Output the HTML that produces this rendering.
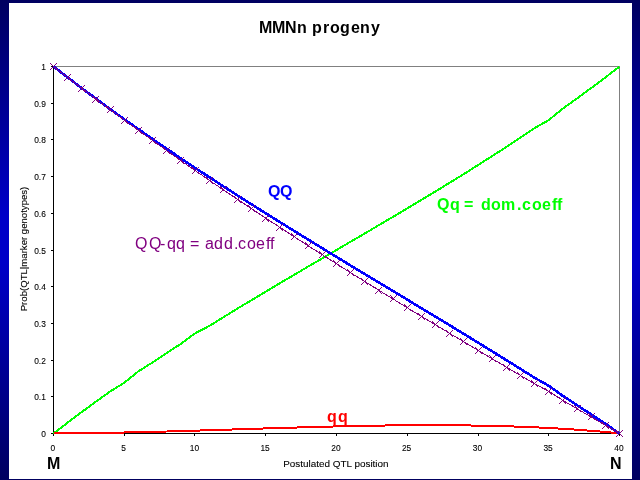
<!DOCTYPE html>
<html><head><meta charset="utf-8"><title>MMNn progeny</title>
<style>
html,body{margin:0;padding:0;}
body{width:640px;height:480px;overflow:hidden;position:relative;font-family:"Liberation Sans",sans-serif;
background:linear-gradient(to bottom,#000060 0%,#0000c8 45%,#0000c8 55%,#000060 100%);}
.panel{position:absolute;left:9px;top:3px;width:623px;height:476px;background:#fff;}
.ch{position:absolute;left:0;top:0;will-change:transform;}
text{font-family:"Liberation Sans",sans-serif;}
.tk text{font-size:8.4px;fill:#000;stroke:#000;stroke-width:0.1px;}
.ax{fill:#000;stroke:#000;stroke-width:0.1px;}
.axx{font-size:9.92px;}
.axy{font-size:9.6px;}
.ttl{font-size:16px;font-weight:bold;fill:#000;}
.lb{font-size:16px;font-weight:bold;}
.lr{font-size:16px;}
.mk{font-size:16px;font-weight:bold;fill:#000;}
</style></head><body>
<div class="panel"></div>
<svg class="ch" width="640" height="480" viewBox="0 0 640 480">
<g shape-rendering="crispEdges">
<rect x="53.5" y="66.5" width="566" height="367" fill="none" stroke="#808080" stroke-width="1"/>
<path d="M53.5 66 V434 M53 433.5 H620" stroke="#000" stroke-width="1" fill="none"/>
<path d="M51 433.5 H54 M51 396.5 H54 M51 360.5 H54 M51 323.5 H54 M51 286.5 H54 M51 250.5 H54 M51 213.5 H54 M51 176.5 H54 M51 139.5 H54 M51 103.5 H54 M51 66.5 H54 M53.5 433 V436 M124.5 433 V436 M194.5 433 V436 M265.5 433 V436 M336.5 433 V436 M407.5 433 V436 M478.5 433 V436 M548.5 433 V436 M619.5 433 V436 " stroke="#000" stroke-width="1" fill="none"/>
</g>
<g shape-rendering="crispEdges">
<polyline points="53.5,433.5 67.7,422.6 81.8,412.0 96.0,401.6 110.1,391.5 124.2,382.8 138.4,371.3 152.6,362.4 166.7,353.0 180.8,343.9 195.0,333.4 209.2,326.0 223.3,317.3 237.4,308.6 251.6,300.1 265.8,291.6 279.9,283.2 294.1,274.9 308.2,266.5 322.4,258.3 336.5,250.0 350.6,241.7 364.8,233.5 378.9,225.1 393.1,216.8 407.2,208.4 421.4,199.9 435.6,191.4 449.7,182.7 463.9,174.0 478.0,165.1 492.1,156.1 506.3,147.0 520.5,137.6 534.6,128.1 548.8,120.1 562.9,108.5 577.0,98.4 591.2,88.0 605.4,77.4 619.5,66.5" fill="none" stroke="#00ff00" stroke-width="2" stroke-linejoin="round"/>
<polyline points="53.5,433.3 67.7,433.3 81.8,433.2 96.0,433.0 110.1,432.8 124.2,432.5 138.4,432.2 152.6,431.9 166.7,431.5 180.8,431.1 195.0,430.7 209.2,430.2 223.3,429.8 237.4,429.3 251.6,428.9 265.8,428.4 279.9,428.0 294.1,427.6 308.2,427.2 322.4,426.8 336.5,426.4 350.6,426.1 364.8,425.8 378.9,425.6 393.1,425.4 407.2,425.3 421.4,425.2 435.6,425.2 449.7,425.2 463.9,425.4 478.0,425.6 492.1,425.9 506.3,426.3 520.5,426.7 534.6,427.3 548.8,428.0 562.9,428.8 577.0,429.7 591.2,430.8 605.4,432.0 619.5,433.3" fill="none" stroke="#ff0000" stroke-width="2" stroke-linejoin="round"/>
<polyline points="53.5,66.5 67.7,77.4 81.8,88.2 96.0,98.7 110.1,109.1 124.2,119.2 138.4,129.2 152.6,139.1 166.7,148.8 180.8,158.3 195.0,167.8 209.2,177.1 223.3,186.3 237.4,195.4 251.6,204.4 265.8,213.3 279.9,222.1 294.1,230.9 308.2,239.6 322.4,248.3 336.5,256.9 350.6,265.5 364.8,274.0 378.9,282.6 393.1,291.1 407.2,299.6 421.4,308.2 435.6,316.7 449.7,325.3 463.9,333.9 478.0,342.6 492.1,351.3 506.3,360.1 520.5,368.9 534.6,377.8 548.8,385.8 562.9,395.9 577.0,405.1 591.2,414.5 605.4,423.9 619.5,433.5" fill="none" stroke="#0000ff" stroke-width="2.6" stroke-linejoin="round"/>
<polyline points="53.5,66.5 67.7,77.5 81.8,88.3 96.0,99.0 110.1,109.6 124.2,120.0 138.4,130.3 152.6,140.5 166.7,150.6 180.8,160.6 195.0,170.4 209.2,180.2 223.3,189.8 237.4,199.3 251.6,208.8 265.8,218.2 279.9,227.4 294.1,236.6 308.2,245.8 322.4,254.8 336.5,263.8 350.6,272.7 364.8,281.5 378.9,290.3 393.1,299.0 407.2,307.7 421.4,316.3 435.6,324.8 449.7,333.4 463.9,341.9 478.0,350.3 492.1,358.7 506.3,367.1 520.5,375.5 534.6,383.8 548.8,391.3 562.9,400.4 577.0,408.7 591.2,417.0 605.4,425.2 619.5,433.5" fill="none" stroke="#800080" stroke-width="1" stroke-linejoin="round"/>
<defs><path id="mk" d="M-3 -3h1v1h-1zM-3 3h1v1h-1zM-2 -2h1v1h-1zM-2 2h1v1h-1zM-1 -1h1v1h-1zM-1 1h1v1h-1zM0 0h1v1h-1zM1 1h1v1h-1zM1 -1h1v1h-1zM2 2h1v1h-1zM2 -2h1v1h-1zM3 3h1v1h-1zM3 -3h1v1h-1z" fill="#800080"/></defs>
<use href="#mk" x="53" y="66"/><use href="#mk" x="67" y="77"/><use href="#mk" x="81" y="88"/><use href="#mk" x="95" y="99"/><use href="#mk" x="110" y="109"/><use href="#mk" x="124" y="120"/><use href="#mk" x="138" y="130"/><use href="#mk" x="152" y="140"/><use href="#mk" x="166" y="150"/><use href="#mk" x="180" y="160"/><use href="#mk" x="195" y="170"/><use href="#mk" x="209" y="180"/><use href="#mk" x="223" y="189"/><use href="#mk" x="237" y="199"/><use href="#mk" x="251" y="208"/><use href="#mk" x="265" y="218"/><use href="#mk" x="279" y="227"/><use href="#mk" x="294" y="236"/><use href="#mk" x="308" y="245"/><use href="#mk" x="322" y="254"/><use href="#mk" x="336" y="263"/><use href="#mk" x="350" y="272"/><use href="#mk" x="364" y="281"/><use href="#mk" x="378" y="290"/><use href="#mk" x="393" y="298"/><use href="#mk" x="407" y="307"/><use href="#mk" x="421" y="316"/><use href="#mk" x="435" y="324"/><use href="#mk" x="449" y="333"/><use href="#mk" x="463" y="341"/><use href="#mk" x="478" y="350"/><use href="#mk" x="492" y="358"/><use href="#mk" x="506" y="367"/><use href="#mk" x="520" y="375"/><use href="#mk" x="534" y="383"/><use href="#mk" x="548" y="391"/><use href="#mk" x="562" y="400"/><use href="#mk" x="577" y="408"/><use href="#mk" x="591" y="416"/><use href="#mk" x="605" y="425"/><use href="#mk" x="619" y="433"/>
</g>
<g class="tk">
<text x="45.8" y="437.0" text-anchor="end">0</text>
<text x="45.8" y="400.3" text-anchor="end">0.1</text>
<text x="45.8" y="363.6" text-anchor="end">0.2</text>
<text x="45.8" y="326.9" text-anchor="end">0.3</text>
<text x="45.8" y="290.2" text-anchor="end">0.4</text>
<text x="45.8" y="253.5" text-anchor="end">0.5</text>
<text x="45.8" y="216.8" text-anchor="end">0.6</text>
<text x="45.8" y="180.1" text-anchor="end">0.7</text>
<text x="45.8" y="143.4" text-anchor="end">0.8</text>
<text x="45.8" y="106.7" text-anchor="end">0.9</text>
<text x="45.8" y="70.0" text-anchor="end">1</text>
<text x="52.9" y="451" text-anchor="middle">0</text>
<text x="123.7" y="451" text-anchor="middle">5</text>
<text x="194.4" y="451" text-anchor="middle">10</text>
<text x="265.1" y="451" text-anchor="middle">15</text>
<text x="335.9" y="451" text-anchor="middle">20</text>
<text x="406.6" y="451" text-anchor="middle">25</text>
<text x="477.4" y="451" text-anchor="middle">30</text>
<text x="548.1" y="451" text-anchor="middle">35</text>
<text x="618.9" y="451" text-anchor="middle">40</text>
</g>
<text class="ax axx" x="335.9" y="467" text-anchor="middle">Postulated QTL position</text>
<text class="ax axy" transform="translate(27.2,249) rotate(-90)" text-anchor="middle">Prob(QTL|marker genotypes)</text>
<text class="ttl" y="33" x="259 272 285 297 308 312 323 330 340 351 360 371">MMNn progeny</text>
<text class="lb" y="197" x="268 280" fill="#0000ff">QQ</text>
<text class="lb" y="210" x="437 450 461 464 476 481 491 501 517 522 532 542 552 557" fill="#00ff00">Qq = dom.coeff</text>
<text class="lb" y="422" x="327 338" fill="#ff0000">qq</text>
<text class="lr" y="249" x="135 149 160 167 176 185 190 200 205 214 224 234 238 247 256 266 270" fill="#800080">QQ-qq = add.coeff</text>
<text class="mk" x="47" y="469">M</text>
<text class="mk" x="610" y="469">N</text>
</svg>
</body></html>
